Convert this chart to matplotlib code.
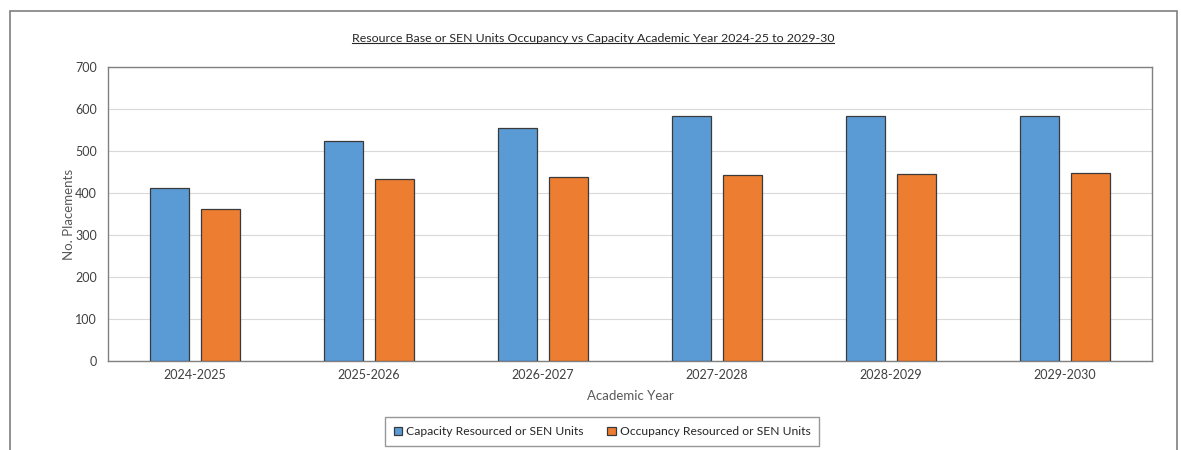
import matplotlib
matplotlib.use("Agg")
import matplotlib.pyplot as plt
import numpy as np
from matplotlib.patches import Rectangle
from matplotlib.lines import Line2D

years = ["2024-2025", "2025-2026", "2026-2027", "2027-2028", "2028-2029", "2029-2030"]
capacity = [412, 524, 555, 584, 584, 584]
occupancy = [362, 434, 438, 443, 445, 448]
series_names = ["Capacity Resourced or SEN Units", "Occupancy Resourced or SEN Units"]
title = "Resource Base or SEN Units Occupancy vs Capacity Academic Year 2024-25 to 2029-30"

plt.rcParams['font.family'] = ['Lato', 'DejaVu Sans']
W, H = 1181, 450
fig = plt.figure(figsize=(W/100, H/100), dpi=100)
fig.patch.set_facecolor('white')

# outer chart border
fig.patches.append(Rectangle((10/W, -0.05), (1177-10)/W, 1 - 11/H + 0.05,
                             transform=fig.transFigure, fill=False,
                             edgecolor='#7f7f7f', linewidth=1.2))

left, right, top, bottom = 108, 1152, 67, 361
ax = fig.add_axes([left/W, 1 - bottom/H, (right-left)/W, (bottom-top)/H])

x = np.arange(len(years))
bw = 0.224
off = 0.144
ax.bar(x - off, capacity, bw, color='#5B9BD5', edgecolor='#3a3a3a', linewidth=0.9,
       label=series_names[0], zorder=3)
ax.bar(x + off, occupancy, bw, color='#ED7D31', edgecolor='#3a3a3a', linewidth=0.9,
       label=series_names[1], zorder=3)

ax.set_xlim(-0.5, len(years) - 0.5)
ax.set_ylim(0, 700)
ax.set_yticks(range(0, 701, 100))
ax.set_xticks(x)
ax.set_xticklabels(years)
ax.yaxis.grid(True, color='#d9d9d9', linewidth=0.8, zorder=0)
ax.set_axisbelow(True)
for s in ax.spines.values():
    s.set_color('#808080')
    s.set_linewidth(1.0)
ax.tick_params(axis='both', length=0, labelsize=9, colors='#404040', pad=6)
ax.tick_params(axis='y', pad=8)

ax.set_ylabel("No. Placements", fontsize=9.5, color='#595959', labelpad=0)
ax.yaxis.set_label_coords((75 - left) / (right - left), 0.5)
ax.set_xlabel("Academic Year", fontsize=9.5, color='#595959', labelpad=6)

t = fig.text(593/W, 1 - 38/H, title, ha='center', va='center', fontsize=8.9, color='#262626')
fig.canvas.draw()
bb = t.get_window_extent()
inv = fig.transFigure.inverted()
(x0, y0), (x1, y1) = inv.transform([(bb.x0, bb.y0), (bb.x1, bb.y0)])
fig.lines.append(Line2D([x0, x1], [y0 + 1/H, y0 + 1/H], transform=fig.transFigure,
                        color='#262626', linewidth=0.8))

leg = fig.legend(loc='center', bbox_to_anchor=(602/W, 1 - 431.5/H), ncol=2,
                 fontsize=8.7, frameon=True, fancybox=False, edgecolor='#7f7f7f',
                 handlelength=0.7, handleheight=0.7, handletextpad=0.3,
                 columnspacing=2.0, borderpad=0.75, borderaxespad=0)
leg.get_frame().set_linewidth(1.0)
for txt in leg.get_texts():
    txt.set_color('#262626')

fig.savefig("out.png", dpi=100)
